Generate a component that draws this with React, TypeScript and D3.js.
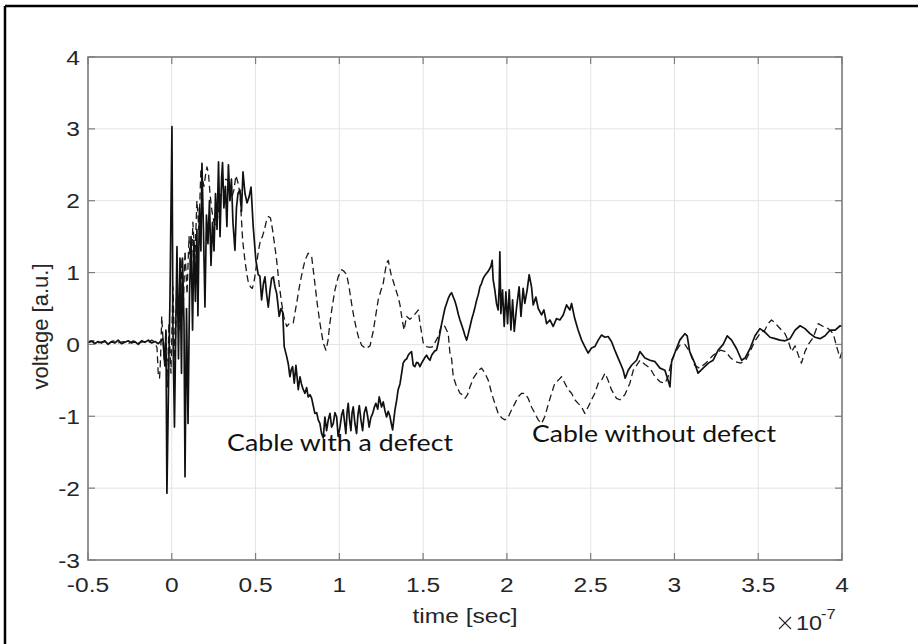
import React from 'react';
import * as d3 from 'd3';

const WIDTH = 918;
const HEIGHT = 644;
const PLOT = { left: 88, right: 842, top: 57, bottom: 560 };

const xTicks = [-0.5, 0, 0.5, 1, 1.5, 2, 2.5, 3, 3.5, 4];
const xTickLabels = ['-0.5', '0', '0.5', '1', '1.5', '2', '2.5', '3', '3.5', '4'];
const yTicks = [-3, -2, -1, 0, 1, 2, 3, 4];
const yTickLabels = ['-3', '-2', '-1', '0', '1', '2', '3', '4'];

// Time in units of 1e-7 s, voltage in a.u.
const defectTrace: [number, number][] = [
  [-0.5, 0.03], [-0.48, 0.05], [-0.46, 0.01], [-0.44, 0.04], [-0.42, 0.02], [-0.4, 0.05],
  [-0.38, 0.0], [-0.36, 0.04], [-0.34, 0.02], [-0.32, 0.06], [-0.3, 0.01], [-0.28, 0.03],
  [-0.26, 0.05], [-0.24, 0.02], [-0.22, 0.04], [-0.2, 0.0], [-0.18, 0.05], [-0.16, 0.03],
  [-0.14, 0.06], [-0.12, 0.02], [-0.1, 0.04], [-0.08, 0.01], [-0.065, 0.05], [-0.053, 0.08],
  [-0.041, -0.3], [-0.035, 0.2], [-0.029, -2.07], [-0.017, -0.2], [-0.011, 0.6], [0.001, 3.03],
  [0.007, 0.2], [0.016, -1.15], [0.025, 0.4], [0.031, 1.36], [0.04, -0.2], [0.049, 1.2],
  [0.058, -0.4], [0.064, 1.2], [0.073, 0.3], [0.079, -1.84], [0.088, 0.5], [0.097, -1.1],
  [0.106, 0.7], [0.115, 1.5], [0.124, 0.2], [0.132, 1.45], [0.141, 0.6], [0.15, 1.6],
  [0.156, 0.4], [0.165, 1.9], [0.174, 1.3], [0.18, 2.52], [0.189, 1.6], [0.198, 0.52],
  [0.207, 1.8], [0.216, 1.4], [0.225, 2.0], [0.234, 1.1], [0.243, 1.7], [0.252, 1.3],
  [0.261, 2.1], [0.27, 1.6], [0.279, 2.54], [0.288, 1.5], [0.297, 2.3], [0.303, 2.53],
  [0.311, 1.9], [0.32, 2.2], [0.329, 1.64], [0.338, 2.5], [0.347, 2.0], [0.356, 2.3],
  [0.365, 1.7], [0.377, 1.31], [0.386, 1.9], [0.395, 2.1], [0.407, 2.15], [0.416, 1.85],
  [0.425, 2.4], [0.437, 2.1], [0.449, 1.97], [0.461, 2.05], [0.473, 2.19], [0.486, 1.64],
  [0.502, 1.17], [0.516, 0.97], [0.526, 0.95], [0.536, 0.62], [0.547, 0.85], [0.556, 0.94],
  [0.566, 0.7], [0.576, 0.52], [0.586, 0.75], [0.596, 0.92], [0.606, 0.94], [0.616, 0.8],
  [0.626, 0.71], [0.634, 0.55], [0.641, 0.39], [0.652, 0.5], [0.662, 0.45], [0.671, -0.03],
  [0.686, -0.17], [0.696, -0.28], [0.705, -0.45], [0.713, -0.35], [0.721, -0.31], [0.731, -0.54],
  [0.741, -0.29], [0.755, -0.63], [0.765, -0.45], [0.774, -0.55], [0.783, -0.62], [0.795, -0.68],
  [0.805, -0.6], [0.814, -0.73], [0.825, -0.7], [0.835, -0.75], [0.844, -0.85], [0.854, -0.96],
  [0.865, -0.95], [0.874, -1.05], [0.884, -1.1], [0.894, -1.24], [0.904, -1.3], [0.914, -1.01],
  [0.924, -1.2], [0.934, -1.05], [0.944, -0.96], [0.954, -1.15], [0.964, -1.1], [0.974, -0.95],
  [0.984, -1.01], [0.993, -1.28], [1.004, -1.15], [1.014, -0.98], [1.023, -0.91], [1.032, -1.1],
  [1.039, -1.24], [1.046, -0.95], [1.053, -0.82], [1.061, -1.05], [1.069, -1.2], [1.076, -0.95],
  [1.083, -0.87], [1.093, -1.1], [1.103, -1.24], [1.111, -0.98], [1.119, -0.85], [1.129, -1.05],
  [1.139, -1.2], [1.149, -0.95], [1.159, -0.87], [1.169, -1.0], [1.178, -1.15], [1.188, -1.02],
  [1.199, -0.96], [1.208, -0.88], [1.218, -0.82], [1.229, -0.9], [1.238, -0.73], [1.252, -0.87],
  [1.262, -0.8], [1.272, -0.92], [1.282, -1.01], [1.292, -0.93], [1.302, -1.0], [1.31, -1.1],
  [1.318, -1.19], [1.332, -0.91], [1.342, -0.78], [1.351, -0.63], [1.362, -0.55], [1.372, -0.4],
  [1.381, -0.26], [1.391, -0.22], [1.402, -0.2], [1.411, -0.15], [1.421, -0.12], [1.431, -0.1],
  [1.441, -0.29], [1.451, -0.31], [1.461, -0.25], [1.471, -0.26], [1.481, -0.31], [1.491, -0.26],
  [1.501, -0.22], [1.511, -0.18], [1.521, -0.15], [1.53, -0.19], [1.541, -0.22], [1.551, -0.15],
  [1.56, -0.12], [1.57, -0.09], [1.58, -0.08], [1.59, 0.02], [1.6, 0.15], [1.61, 0.28],
  [1.62, 0.39], [1.63, 0.5], [1.64, 0.57], [1.65, 0.64], [1.66, 0.69], [1.67, 0.72],
  [1.68, 0.66], [1.69, 0.6], [1.7, 0.52], [1.71, 0.42], [1.72, 0.34], [1.73, 0.27],
  [1.74, 0.2], [1.75, 0.12], [1.76, 0.06], [1.77, 0.15], [1.78, 0.25], [1.79, 0.35],
  [1.8, 0.43], [1.81, 0.52], [1.82, 0.62], [1.83, 0.7], [1.839, 0.8], [1.849, 0.85],
  [1.859, 0.92], [1.869, 0.96], [1.879, 0.99], [1.889, 1.02], [1.899, 1.06], [1.906, 1.1],
  [1.912, 1.17], [1.918, 0.9], [1.928, 0.76], [1.938, 0.57], [1.948, 0.48], [1.954, 0.8],
  [1.958, 1.29], [1.964, 0.43], [1.974, 0.76], [1.984, 0.25], [1.994, 0.73], [2.004, 0.29],
  [2.014, 0.76], [2.024, 0.2], [2.034, 0.62], [2.044, 0.18], [2.058, 0.52], [2.073, 0.8],
  [2.084, 0.39], [2.097, 0.78], [2.107, 0.57], [2.121, 0.76], [2.133, 0.97], [2.147, 0.8],
  [2.157, 0.55], [2.173, 0.66], [2.187, 0.5], [2.207, 0.41], [2.221, 0.48], [2.237, 0.29],
  [2.257, 0.34], [2.276, 0.25], [2.296, 0.36], [2.316, 0.34], [2.336, 0.41], [2.356, 0.55],
  [2.376, 0.48], [2.386, 0.57], [2.405, 0.36], [2.425, 0.2], [2.446, 0.06], [2.465, -0.03],
  [2.485, -0.12], [2.505, -0.05], [2.525, -0.03], [2.545, 0.06], [2.565, 0.13], [2.585, 0.1],
  [2.604, 0.11], [2.624, 0.04], [2.644, -0.08], [2.664, -0.19], [2.684, -0.3], [2.694, -0.36],
  [2.706, -0.47], [2.724, -0.36], [2.744, -0.29], [2.774, -0.22], [2.794, -0.1], [2.824, -0.19],
  [2.854, -0.22], [2.884, -0.24], [2.914, -0.33], [2.943, -0.36], [2.962, -0.5], [2.973, -0.59],
  [2.983, -0.24], [3.002, -0.12], [3.032, 0.06], [3.062, 0.15], [3.076, 0.12], [3.091, -0.1],
  [3.121, -0.26], [3.141, -0.4], [3.171, -0.33], [3.202, -0.26], [3.231, -0.22], [3.261, -0.08],
  [3.291, 0.0], [3.315, 0.12], [3.341, 0.06], [3.371, -0.06], [3.401, -0.22], [3.421, -0.19],
  [3.451, -0.06], [3.481, 0.12], [3.51, 0.22], [3.54, 0.17], [3.57, 0.1], [3.6, 0.08],
  [3.63, 0.06], [3.66, 0.05], [3.69, 0.08], [3.72, 0.2], [3.75, 0.26], [3.779, 0.22],
  [3.809, 0.15], [3.839, 0.1], [3.869, 0.08], [3.899, 0.12], [3.929, 0.2], [3.959, 0.2],
  [3.989, 0.26], [4.0, 0.25],
];

const intactTrace: [number, number][] = [
  [-0.5, 0.02], [-0.47, 0.05], [-0.44, 0.02], [-0.41, 0.04], [-0.38, 0.01], [-0.35, 0.05],
  [-0.32, 0.02], [-0.29, 0.04], [-0.26, 0.01], [-0.23, 0.05], [-0.2, 0.02], [-0.17, 0.04],
  [-0.14, 0.02], [-0.12, 0.06], [-0.1, 0.03], [-0.088, -0.05], [-0.081, -0.4], [-0.073, -0.47],
  [-0.067, -0.2], [-0.06, 0.39], [-0.053, 0.1], [-0.044, -0.25], [-0.035, 0.2], [-0.026, -0.6],
  [-0.017, 0.3], [-0.005, -0.4], [0.007, 0.8], [0.019, -0.3], [0.031, 1.0], [0.043, 0.2],
  [0.055, 1.2], [0.067, 0.4], [0.079, 1.3], [0.091, 0.7], [0.103, 1.5], [0.115, 0.9],
  [0.126, 1.7], [0.138, 1.2], [0.15, 2.0], [0.162, 1.6], [0.174, 2.45], [0.183, 2.3],
  [0.192, 2.2], [0.201, 2.35], [0.21, 2.47], [0.219, 2.38], [0.228, 2.1], [0.24, 1.85],
  [0.252, 1.7], [0.264, 1.65], [0.276, 1.8], [0.288, 2.05], [0.3, 2.2], [0.311, 2.25],
  [0.323, 2.3], [0.335, 2.28], [0.347, 2.2], [0.359, 2.05], [0.371, 2.15], [0.383, 2.35],
  [0.395, 2.25], [0.407, 2.1], [0.423, 1.45], [0.435, 1.2], [0.447, 0.99], [0.458, 0.85],
  [0.47, 0.8], [0.481, 0.78], [0.493, 0.9], [0.505, 1.1], [0.517, 1.3], [0.529, 1.45],
  [0.541, 1.5], [0.553, 1.6], [0.565, 1.72], [0.577, 1.78], [0.589, 1.76], [0.601, 1.6],
  [0.613, 1.4], [0.626, 1.17], [0.64, 0.85], [0.656, 0.57], [0.669, 0.38], [0.686, 0.25],
  [0.705, 0.3], [0.725, 0.3], [0.745, 0.57], [0.765, 0.85], [0.78, 1.02], [0.795, 1.17],
  [0.814, 1.27], [0.835, 1.22], [0.854, 0.85], [0.869, 0.55], [0.884, 0.3], [0.904, 0.02],
  [0.92, -0.08], [0.932, 0.05], [0.944, 0.3], [0.959, 0.55], [0.974, 0.76], [0.993, 0.94],
  [1.014, 1.04], [1.027, 1.02], [1.044, 0.97], [1.058, 0.8], [1.073, 0.57], [1.087, 0.38],
  [1.103, 0.2], [1.117, 0.08], [1.133, -0.01], [1.159, -0.06], [1.183, -0.02], [1.202, 0.18],
  [1.217, 0.4], [1.232, 0.62], [1.248, 0.75], [1.262, 0.85], [1.272, 1.0], [1.282, 1.13],
  [1.292, 1.17], [1.302, 1.05], [1.312, 0.94], [1.322, 0.88], [1.332, 0.8], [1.351, 0.66],
  [1.362, 0.55], [1.372, 0.39], [1.386, 0.2], [1.402, 0.39], [1.421, 0.35], [1.441, 0.39],
  [1.461, 0.45], [1.471, 0.48], [1.481, 0.3], [1.501, 0.02], [1.521, -0.03], [1.541, -0.04],
  [1.56, -0.03], [1.576, 0.05], [1.59, 0.11], [1.61, 0.27], [1.63, 0.25], [1.65, 0.15],
  [1.66, -0.12], [1.67, -0.2], [1.68, -0.45], [1.69, -0.52], [1.7, -0.59], [1.71, -0.63],
  [1.72, -0.68], [1.735, -0.7], [1.75, -0.75], [1.765, -0.7], [1.78, -0.59], [1.8, -0.47],
  [1.82, -0.4], [1.83, -0.36], [1.849, -0.33], [1.869, -0.4], [1.889, -0.5], [1.909, -0.68],
  [1.928, -0.82], [1.948, -0.96], [1.968, -1.02], [1.988, -1.05], [2.008, -1.01], [2.028, -0.91],
  [2.048, -0.82], [2.067, -0.73], [2.088, -0.68], [2.107, -0.68], [2.127, -0.75], [2.147, -0.87],
  [2.167, -0.96], [2.187, -1.05], [2.207, -1.1], [2.227, -1.0], [2.246, -0.84], [2.267, -0.68],
  [2.286, -0.54], [2.306, -0.5], [2.326, -0.45], [2.346, -0.54], [2.366, -0.63], [2.386, -0.68],
  [2.405, -0.77], [2.425, -0.82], [2.446, -0.87], [2.465, -0.96], [2.485, -0.87], [2.505, -0.77],
  [2.525, -0.68], [2.545, -0.54], [2.565, -0.5], [2.585, -0.4], [2.604, -0.5], [2.624, -0.63],
  [2.654, -0.75], [2.674, -0.77], [2.704, -0.7], [2.734, -0.54], [2.754, -0.36], [2.774, -0.29],
  [2.794, -0.22], [2.824, -0.28], [2.854, -0.33], [2.884, -0.45], [2.914, -0.52], [2.943, -0.54],
  [2.962, -0.45], [2.983, -0.22], [3.008, -0.1], [3.032, -0.01], [3.062, 0.0], [3.091, -0.1],
  [3.121, -0.29], [3.149, -0.33], [3.191, -0.25], [3.231, -0.15], [3.276, -0.08], [3.306, -0.1],
  [3.336, -0.19], [3.365, -0.24], [3.395, -0.26], [3.425, -0.22], [3.451, -0.1], [3.481, 0.05],
  [3.51, 0.15], [3.54, 0.2], [3.559, 0.29], [3.579, 0.34], [3.6, 0.3], [3.619, 0.25],
  [3.639, 0.2], [3.66, 0.15], [3.679, 0.05], [3.699, -0.1], [3.72, -0.02], [3.75, -0.22],
  [3.758, -0.26], [3.779, -0.1], [3.799, 0.0], [3.829, 0.1], [3.858, 0.29], [3.888, 0.25],
  [3.918, 0.22], [3.948, 0.15], [3.968, -0.03], [3.988, -0.19], [4.0, -0.1],
];

const annotations = [
  { text: 'Cable with a defect', t: 0.33, v: -1.49, width: 226 },
  { text: 'Cable without defect', t: 2.15, v: -1.36, width: 244 },
];

const TICK_FONT = '"Liberation Sans", Arial, sans-serif';
const NOTE_FONT = 'Lato, "Open Sans", sans-serif';
const STRETCH = 1.17;

function Label({
  x,
  y,
  anchor,
  size,
  children,
}: {
  x: number;
  y: number;
  anchor: 'start' | 'middle' | 'end';
  size: number;
  children: React.ReactNode;
}) {
  return (
    <g transform={`translate(${x},${y}) scale(${STRETCH},1)`}>
      <text x={0} y={0} textAnchor={anchor} fontSize={size}>
        {children}
      </text>
    </g>
  );
}

export default function App() {
  const x = d3.scaleLinear().domain([-0.5, 4]).range([PLOT.left, PLOT.right]);
  const y = d3.scaleLinear().domain([-3, 4]).range([PLOT.bottom, PLOT.top]);
  const line = d3
    .line<[number, number]>()
    .x((d) => x(d[0]))
    .y((d) => y(d[1]));

  const axisColor = '#7d7d7d';
  const textColor = '#262626';

  return (
    <svg
      width={WIDTH}
      height={HEIGHT}
      style={{ position: 'absolute', left: 0, top: 0, background: '#fff' }}
    >
      <rect x={0} y={0} width={WIDTH} height={HEIGHT} fill="#fff" />
      {/* outer frame */}
      <line x1={5} y1={6} x2={WIDTH} y2={6} stroke="#000" strokeWidth={2.5} />
      <line x1={5} y1={6} x2={5} y2={HEIGHT} stroke="#000" strokeWidth={2.5} />

      {/* grid */}
      <g stroke="#e4e4e4" strokeWidth={1}>
        {xTicks.map((t) => (
          <line key={'gx' + t} x1={x(t)} x2={x(t)} y1={PLOT.top} y2={PLOT.bottom} />
        ))}
        {yTicks.map((t) => (
          <line key={'gy' + t} x1={PLOT.left} x2={PLOT.right} y1={y(t)} y2={y(t)} />
        ))}
      </g>

      {/* traces */}
      <path
        d={line(intactTrace) ?? ''}
        fill="none"
        stroke="#1a1a1a"
        strokeWidth={1.3}
        strokeDasharray="7,4"
        strokeLinejoin="round"
      />
      <path
        d={line(defectTrace) ?? ''}
        fill="none"
        stroke="#111"
        strokeWidth={1.7}
        strokeLinejoin="round"
      />

      {/* axes box and ticks */}
      <rect
        x={PLOT.left}
        y={PLOT.top}
        width={PLOT.right - PLOT.left}
        height={PLOT.bottom - PLOT.top}
        fill="none"
        stroke={axisColor}
        strokeWidth={1.6}
      />
      <g stroke={axisColor} strokeWidth={1.2}>
        {xTicks.map((t) => (
          <g key={'tx' + t}>
            <line x1={x(t)} x2={x(t)} y1={PLOT.bottom} y2={PLOT.bottom - 7} />
            <line x1={x(t)} x2={x(t)} y1={PLOT.top} y2={PLOT.top + 7} />
          </g>
        ))}
        {yTicks.map((t) => (
          <g key={'ty' + t}>
            <line x1={PLOT.left} x2={PLOT.left + 7} y1={y(t)} y2={y(t)} />
            <line x1={PLOT.right} x2={PLOT.right - 7} y1={y(t)} y2={y(t)} />
          </g>
        ))}
      </g>

      <g fill={textColor} fontFamily={TICK_FONT}>
        {xTicks.map((t, i) => (
          <Label key={'lx' + t} x={x(t)} y={PLOT.bottom + 32} anchor="middle" size={21}>
            {xTickLabels[i]}
          </Label>
        ))}
        {yTicks.map((t, i) => (
          <Label key={'ly' + t} x={PLOT.left - 8} y={y(t) + 7.5} anchor="end" size={21}>
            {yTickLabels[i]}
          </Label>
        ))}
        <Label x={(PLOT.left + PLOT.right) / 2} y={623} anchor="middle" size={21}>
          time [sec]
        </Label>
        <text
          transform={`translate(48, ${(PLOT.top + PLOT.bottom) / 2 + 18}) rotate(-90)`}
          textAnchor="middle"
          fontSize={22}
        >
          voltage [a.u.]
        </text>
        {/* exponent multiplier for the time axis */}
        <g stroke={textColor} strokeWidth={1.1}>
          <line x1={779} y1={617} x2={791} y2={629} />
          <line x1={791} y1={617} x2={779} y2={629} />
        </g>
        <Label x={796} y={630} anchor="start" size={20}>
          10
        </Label>
        <Label x={821} y={619} anchor="start" size={14}>
          -7
        </Label>
      </g>

      <g fill="#111" fontFamily={NOTE_FONT} fontSize={23}>
        {annotations.map((a) => (
          <text
            key={a.text}
            x={x(a.t)}
            y={y(a.v)}
            textLength={a.width}
            lengthAdjust="spacingAndGlyphs"
          >
            {a.text}
          </text>
        ))}
      </g>
    </svg>
  );
}
